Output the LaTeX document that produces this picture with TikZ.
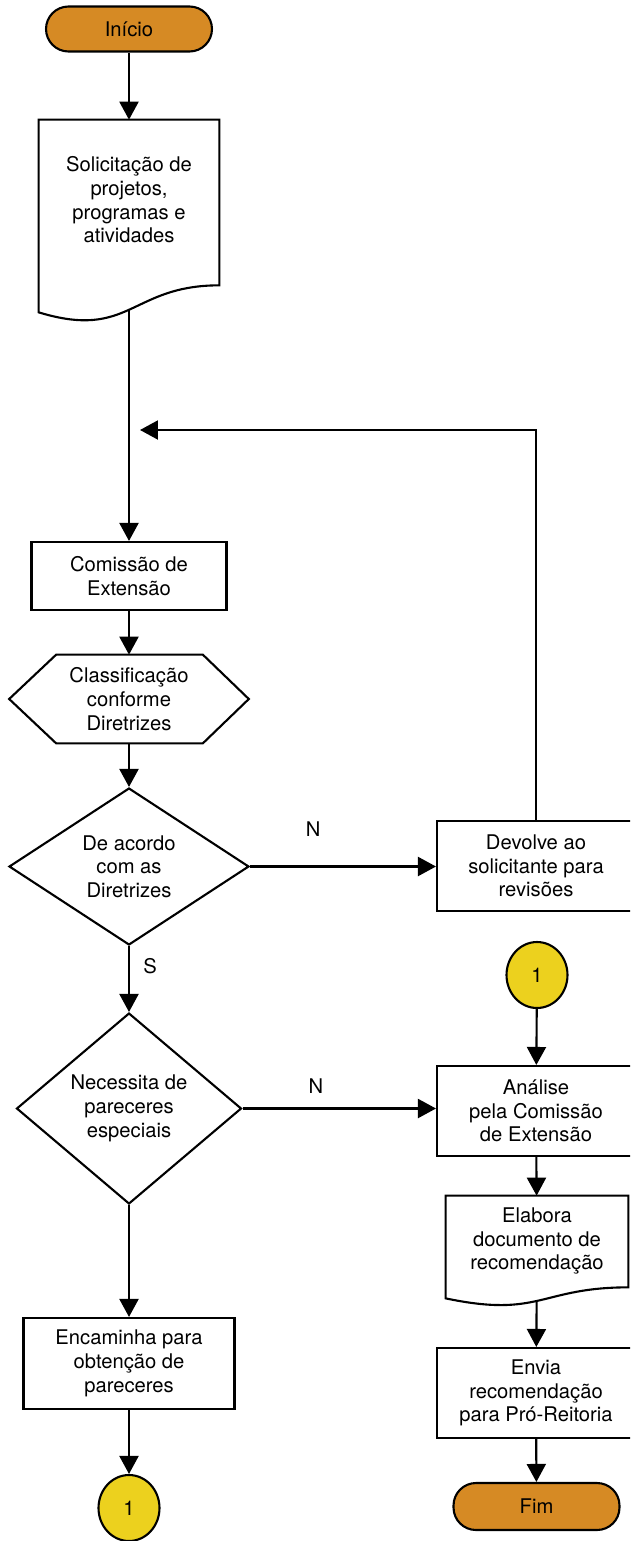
\documentclass[tikz,border=0pt]{standalone}
\usepackage{fontspec}
\setmainfont{TeX Gyre Heros}
\usepackage{tikz}
\definecolor{termorange}{RGB}{214, 138, 36}
\definecolor{linkyellow}{RGB}{236, 209, 30}
\usetikzlibrary{shapes, arrows.meta, positioning, calc}

\begin{document}
\begin{tikzpicture}[
    x=0.02cm, y=-0.02cm,
    font=\fontsize{11.5}{13.5}\selectfont,
    terminal/.style={rectangle, draw, line width=1.2pt, fill=termorange, rounded corners=0.45cm, minimum width=3.32cm, minimum height=0.9cm},
    process/.style={rectangle, draw, line width=1.2pt, align=center, inner sep=2pt},
    decision/.style={diamond, draw, line width=1.2pt, align=center, inner sep=0pt},
    link/.style={ellipse, draw, line width=1.2pt, fill=linkyellow, minimum width=1.22cm, minimum height=1.32cm, inner sep=0pt},
    outline/.style={draw, line width=1.2pt},
    arrow/.style={-{Triangle[length=0.36cm, width=0.38cm]}, line width=1.2pt}
]
    \useasboundingbox (0,0) rectangle (630,1541);
    \clip (0,0) rectangle (630,1541);
    \fill[white] (0,0) rectangle (630,1541);

    % Left column
    \node[terminal] (ini) at (129,29) {Início};
    \node[minimum width=3.6cm, minimum height=3.78cm] (sol) at (129,214.5) {};
    \node[align=center] (soltxt) at ($(sol)+(0,-14.5)$) {Solicitação de\\projetos,\\programas e\\atividades};
    \node[process, minimum width=3.9cm, minimum height=1.36cm] (com) at (129,576) {Comissão de\\Extensão};
    \node[align=center, minimum width=4.78cm, minimum height=1.76cm] (hex) at (129,699) {Classificação\\conforme\\Diretrizes};
    \node[decision, minimum width=4.8cm, minimum height=3.14cm] (acordo) at (129,866.5) {De acordo\\com as\\Diretrizes};
    \node[decision, minimum width=4.5cm, minimum height=3.82cm] (parecer) at (129,1108.5) {Necessita de\\pareceres\\especiais};
    \node[process, minimum width=4.22cm, minimum height=1.82cm] (enc) at (129,1363.5) {Encaminha para\\obtenção de\\pareceres};
    \node[link] (linka) at (129,1508) {1};

    % Right column
    \node[process, minimum width=3.96cm, minimum height=1.8cm] (dev) at (536,866) {Devolve ao\\solicitante para\\revisões};
    \node[link] (linkb) at (537,975) {1};
    \node[process, minimum width=3.96cm, minimum height=1.8cm] (ana) at (536,1111) {Análise\\pela Comissão\\de Extensão};
    \node[minimum width=3.64cm, minimum height=2.08cm] (ela) at (537,1248) {};
    \node[align=center] (elatxt) at ($(ela)+(0,-7)$) {Elabora\\documento de\\recomendação};
    \node[process, minimum width=3.96cm, minimum height=1.8cm] (env) at (536,1393) {Envia\\recomendação\\para Pró-Reitoria};
    \node[terminal, minimum height=0.94cm] (fim) at (536.5,1506.5) {Fim};
    \coordinate (ret) at (140,430);

    % Document and hexagon outlines
    \draw[outline] ($(sol.south west)+(0,3)$) -- (sol.north west) -- (sol.north east)
        -- ($(sol.south east)+(0,-24)$)
        .. controls ($(sol.south east)+(-89,-24)$) and ($(sol.south east)+(-89,31)$) .. ($(sol.south west)+(0,3)$) -- cycle;
    \draw[outline] ($(ela.south west)+(0,-2)$) -- (ela.north west) -- (ela.north east)
        -- ($(ela.south east)+(0,-13)$)
        .. controls ($(ela.south east)+(-88,-13)$) and ($(ela.south east)+(-88,18)$) .. ($(ela.south west)+(0,-2)$) -- cycle;
    \draw[outline] (hex.west) -- ($(hex.north west)+(47,0)$) -- ($(hex.north east)+(-46,0)$)
        -- (hex.east) -- ($(hex.south east)+(-46,0)$) -- ($(hex.south west)+(47,0)$) -- cycle;

    % Arrows
    \draw[arrow] (ini) -- (sol);
    \draw[arrow] (sol) -- (com);
    \draw[arrow] (com) -- (hex);
    \draw[arrow] (hex) -- (acordo);
    \draw[arrow] (acordo.east) -- node[pos=0.34, above=0.47cm] (lbln1) {N} (acordo.east -| dev.west);
    \draw[arrow] (dev.north) |- (ret);
    \draw[arrow] (acordo.south) -- node[pos=0.31, right=0.15cm] (lbls) {S} (parecer.north);
    \draw[arrow] (parecer.east) -- node[pos=0.38, above=0.17cm] (lbln2) {N} (parecer.east -| ana.west);
    \draw[arrow] (parecer.south) -- (enc.north);
    \draw[arrow] (enc) -- (linka);
    \draw[arrow] (linkb) -- (ana);
    \draw[arrow] (ana) -- (ela);
    \draw[arrow] (ela) -- (env);
    \draw[arrow] (env) -- (fim);

\end{tikzpicture}
\end{document}
